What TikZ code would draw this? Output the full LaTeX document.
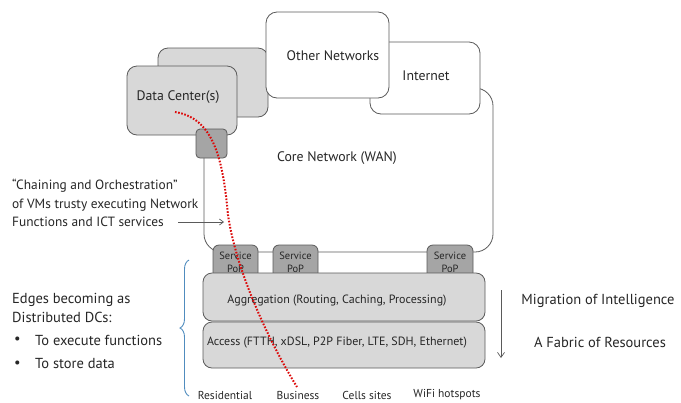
\documentclass[tikz,border=0pt]{standalone}
\usepackage{fontspec}
\setmainfont{PT Sans}
\usetikzlibrary{decorations.pathreplacing,arrows.meta}
\definecolor{edgegray}{RGB}{90,90,90}
\definecolor{boxgray}{RGB}{216,216,216}
\definecolor{popgray}{RGB}{165,165,165}
\definecolor{bracecol}{RGB}{80,140,190}
\definecolor{reddot}{RGB}{220,10,10}
\tikzset{
  netbox/.style={draw=edgegray, line width=0.8bp, fill=white, rounded corners=11bp},
  dcbox/.style={draw=edgegray, line width=0.8bp, fill=boxgray, rounded corners=10bp},
  popbox/.style={draw=edgegray, line width=0.8bp, fill=popgray, rounded corners=6bp},
  layerbox/.style={draw=edgegray, line width=0.8bp, fill=boxgray, rounded corners=9bp},
  lbl/.style={font=\fontsize{13.8bp}{16bp}\selectfont, text=black!85},
  laylbl/.style={font=\fontsize{12bp}{14bp}\selectfont, text=black!85},
  botlbl/.style={font=\fontsize{11.5bp}{13bp}\selectfont, text=black!85},
  poplbl/.style={font=\fontsize{10.5bp}{12.5bp}\selectfont, align=center, text=black!85},
  bigtxt/.style={font=\fontsize{14.5bp}{19bp}\selectfont, anchor=west, inner sep=0pt, text=black!85},
  sidetxt/.style={font=\fontsize{14.5bp}{17bp}\selectfont, text=black!85},
}
\begin{document}
\begin{tikzpicture}[x=1bp,y=-1bp]
\useasboundingbox (0,0) rectangle (681,402);
% core network
\draw[netbox, rounded corners=18bp] (204,88) rectangle (493,252);
% data center back
\draw[dcbox] (158,48) rectangle (268,117);
% internet
\draw[netbox] (370,42) rectangle (480,114);
% other networks
\draw[netbox] (266,12) rectangle (389,98);
% data center front
\draw[dcbox] (127,66) rectangle (237,135);
% small gateway box
\draw[popbox, rounded corners=4bp] (196,129) rectangle (227,158);
% service PoPs
\draw[popbox] (213,245) rectangle (258,282);
\draw[popbox] (273,245) rectangle (318,282);
\draw[popbox] (427,245) rectangle (473,282);
\node[poplbl] (pop1) at (235.5,262.5) {Service\\PoP};
\node[poplbl] (pop2) at (295.5,262.5) {Service\\PoP};
\node[poplbl] (pop3) at (450,262.5) {Service\\PoP};
% layers
\draw[layerbox] (203,273) rectangle (485,321);
\draw[layerbox] (203,322) rectangle (485,368);
\node[laylbl] (agg) at (337,301) {Aggregation (Routing, Caching, Processing)};
\node[laylbl] (acc) at (337,343) {Access (FTTH, xDSL, P2P Fiber, LTE, SDH, Ethernet)};
% labels
\node[lbl] (other) at (333,56) {Other Networks};
\node[lbl] (inet) at (426,76) {Internet};
\node[lbl] (dc) at (178,97) {Data Center(s)};
\node[lbl] (core) at (337,158) {Core Network (WAN)};
% bottom labels
\node[botlbl] (res) at (225,395) {Residential};
\node[botlbl] (bus) at (298,395) {Business};
\node[botlbl] (cell) at (367,395) {Cells sites};
\node[botlbl] (wifi) at (447,395) {WiFi hotspots};
% left annotation
\node[font=\fontsize{13.4bp}{18.5bp}\selectfont, align=left, anchor=west, inner sep=0pt, text=black!85] (chain) at (12,203)
  {“Chaining and Orchestration”\\of VMs trusty executing Network\\Functions and ICT services};
\coordinate (arrs) at (178,222);
\coordinate (arre) at (224,222);
\draw[edgegray, line width=0.7bp, -{Straight Barb[length=4bp,width=6bp]}] (arrs) -- (arre);
% edges text
\node[bigtxt, align=left] (edges) at (12,307.5) {Edges becoming as\\Distributed DCs:};
\node[bigtxt] (b1) at (14,340) {•};
\node[bigtxt] (b2) at (14,364) {•};
\node[bigtxt] (t1) at (35,340) {To execute functions};
\node[bigtxt] (t2) at (35,364) {To store data};
% brace
\coordinate (bt) at (189,260);
\coordinate (bb) at (189,396);
\draw[bracecol, line width=0.9bp, decorate, decoration={brace, amplitude=9bp, aspect=0.5}] (bb) -- (bt);
% right side
\coordinate (ds) at (501,290);
\coordinate (de) at (501,358);
\draw[edgegray, line width=0.7bp, -{Straight Barb[length=5bp,width=7bp]}] (ds) -- (de);
\node[sidetxt] (mig) at (598,301) {Migration of Intelligence};
\node[sidetxt] (fab) at (600,342) {A Fabric of Resources};
% red dotted path
\coordinate (rs) at (175,112);
\coordinate (rm) at (228,215);
\coordinate (re) at (297,387);
\draw[reddot, line width=2bp, dash pattern=on 1.6bp off 1.6bp] (rs) .. controls (214,118) and (223,160) .. (rm) .. controls (236,270) and (268,340) .. (re);
\end{tikzpicture}
\end{document}
